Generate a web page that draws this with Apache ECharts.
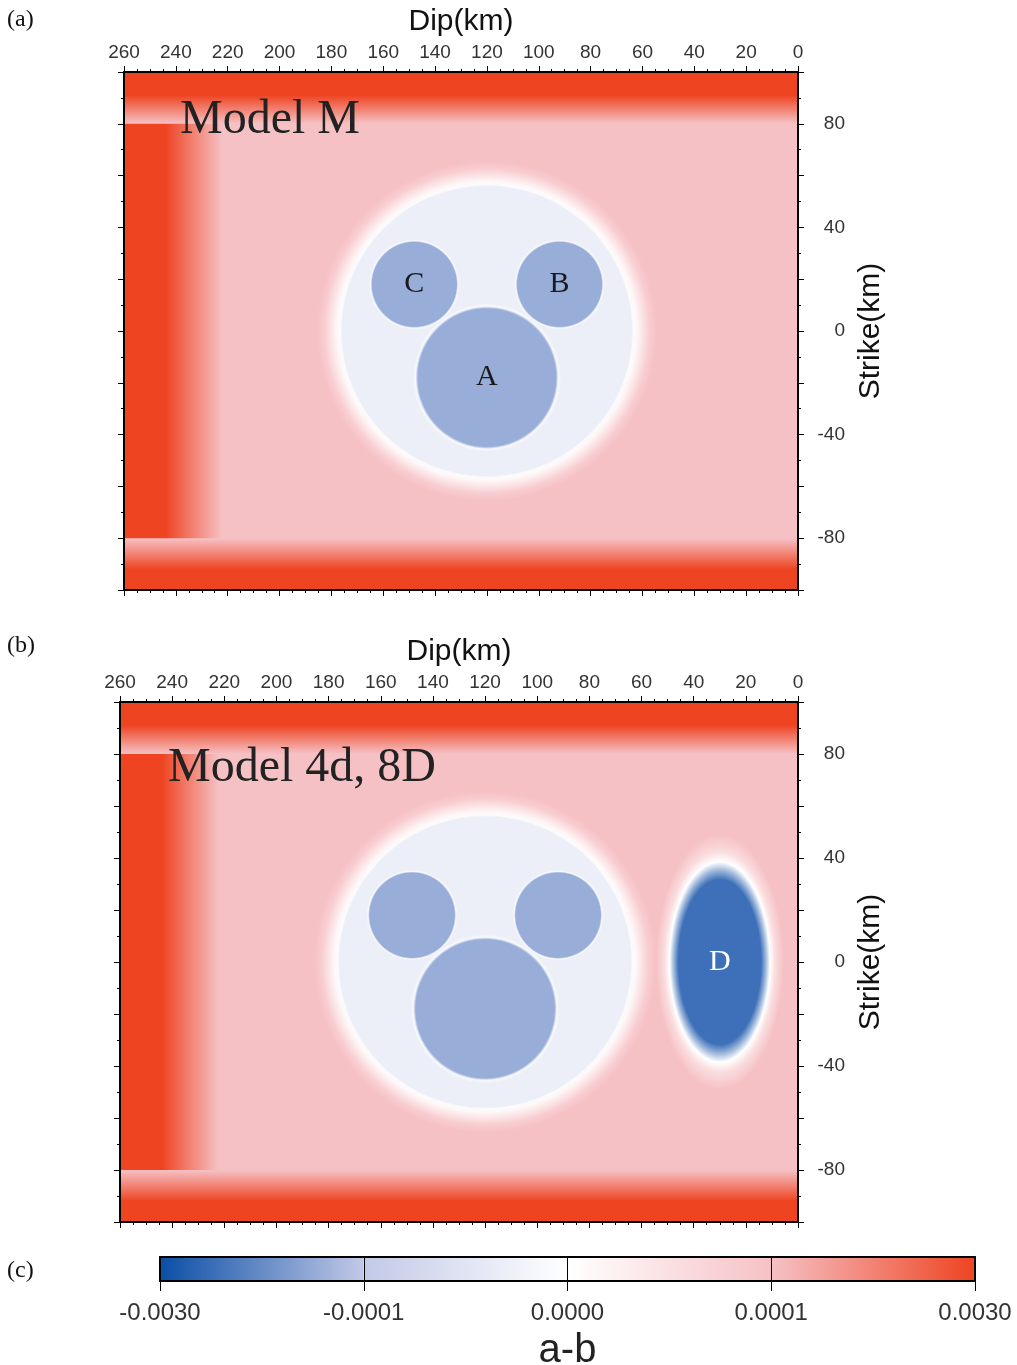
<!DOCTYPE html>
<html><head><meta charset="utf-8">
<script src="https://cdn.jsdelivr.net/npm/echarts@6/dist/echarts.min.js"></script>
<style>html,body{margin:0;padding:0;background:#fff}#c{width:1017px;height:1365px}</style>
</head><body><div id="c"></div>
<script>
// ---------- data ----------
const strikeLabelValues = [-80, -40, 0, 40, 80];
const cbTickValues = [-0.003, -0.0001, 0, 0.0001, 0.003];
const cbTickLabels = ['-0.0030', '-0.0001', '0.0000', '0.0001', '0.0030'];
const cbTickColors = ['#0b4ea6', '#c2c9e7', '#ffffff', '#f6c1c5', '#ee4422'];

const backgroundValue = 0.0001;
const bandNames = ['top', 'bottom', 'left'];
const bandDipRange = [[0, 260], [0, 260], [222, 260]];
const bandStrikeRange = [[80, 100], [-100, -80], [-80, 80]];
const bandRampAxis = ['strike', 'strike', 'dip'];
const bandRamp = [[80, 91], [-80, -92], [222, 244]];
const bandValue = [0.003, 0.003, 0.003];

const regionNames = ['outer', 'A', 'B', 'C', 'D'];
const regionDip = [120, 120, 92, 148, 30];
const regionStrike = [0, -18, 18, 18, 0];
const regionRadiusDip = [56, 27, 16.5, 16.5, 18];
const regionRadiusStrike = [56, 27, 16.5, 16.5, 36];
const regionValue = [-0.00003, -0.00077, -0.00077, -0.00077, -0.0022];

const panelARegions = ['outer', 'A', 'B', 'C'];
const panelALabels = ['A', 'B', 'C'];
const panelBRegions = ['outer', 'A', 'B', 'C', 'D'];
const panelBLabels = ['D'];
const panelTitles = ['Model M', 'Model 4d, 8D'];
const panelTags = ['(a)', '(b)', '(c)'];

// ---------- colour scale (colorbar) ----------
function hex2rgb(h) { h = h.replace('#', ''); return [0, 2, 4].map(i => parseInt(h.substr(i, 2), 16)); }
function rgb2hex(c) { return '#' + c.map(v => Math.round(Math.max(0, Math.min(255, v))).toString(16).padStart(2, '0')).join(''); }
function mix(a, b, t) { const A = hex2rgb(a), B = hex2rgb(b); return rgb2hex(A.map((v, i) => v + (B[i] - v) * t)); }
function colorOf(v) {
  const n = cbTickValues.length;
  if (v <= cbTickValues[0]) return cbTickColors[0];
  if (v >= cbTickValues[n - 1]) return cbTickColors[n - 1];
  for (let i = 0; i < n - 1; i++) {
    if (v <= cbTickValues[i + 1]) {
      const t = (v - cbTickValues[i]) / (cbTickValues[i + 1] - cbTickValues[i]);
      return mix(cbTickColors[i], cbTickColors[i + 1], t);
    }
  }
}
function lum(h) { const c = hex2rgb(h); return 0.299 * c[0] + 0.587 * c[1] + 0.114 * c[2]; }

// ---------- render helpers ----------
function bgRender(params, api) {
  const p0 = api.coord([api.value(0), api.value(2)]);
  const p1 = api.coord([api.value(1), api.value(3)]);
  return { type: 'rect', shape: { x: Math.min(p0[0], p1[0]), y: Math.min(p0[1], p1[1]), width: Math.abs(p1[0] - p0[0]), height: Math.abs(p1[1] - p0[1]) },
    style: { fill: colorOf(backgroundValue) } };
}
function bandRender(params, api) {
  const i = params.dataIndex;
  const d0 = api.value(0), d1 = api.value(1), s0 = api.value(2), s1 = api.value(3);
  const p0 = api.coord([d0, s0]), p1 = api.coord([d1, s1]);
  const r0 = api.value(4), r1 = api.value(5);
  let g0, g1;
  if (bandRampAxis[i] === 'strike') { g0 = api.coord([d0, r0]); g1 = api.coord([d0, r1]); }
  else { g0 = api.coord([r0, s0]); g1 = api.coord([r1, s0]); }
  const grad = new echarts.graphic.LinearGradient(g0[0], g0[1], g1[0], g1[1], [
    { offset: 0, color: colorOf(backgroundValue) },
    { offset: 0.5, color: mix(colorOf(backgroundValue), colorOf(api.value(6)), 0.5) },
    { offset: 1, color: colorOf(api.value(6)) }], true);
  return { type: 'rect', shape: { x: Math.min(p0[0], p1[0]), y: Math.min(p0[1], p1[1]), width: Math.abs(p1[0] - p0[0]), height: Math.abs(p1[1] - p0[1]) },
    style: { fill: grad } };
}
function makeRegionRender(list, labels) {
  return function (params, api) {
    const idx = list[params.dataIndex];
    const name = regionNames[idx];
    const c = api.coord([api.value(0), api.value(1)]);
    const sz = api.size([api.value(2), api.value(3)]);
    const rx = Math.abs(sz[0]), ry = Math.abs(sz[1]);
    const inner = colorOf(api.value(4));
    const bg = colorOf(backgroundValue), white = colorOf(0), around = colorOf(regionValue[0]);
    let f, stops;
    if (name === 'outer') {
      f = 1.17;
      stops = [[0, inner], [0.997 / f, inner], [1.008 / f, '#fbfbfc'], [1.03 / f, mix(white, bg, 0.12)], [1.08 / f, mix(white, bg, 0.5)], [1.12 / f, mix(white, bg, 0.8)], [1, bg]];
    } else if (name === 'D') {
      f = 1.36;
      stops = [[0, inner], [0.88 / f, inner], [0.99 / f, mix(inner, white, 0.55)], [1.07 / f, white], [1.18 / f, mix(white, bg, 0.55)], [1, bg]];
    } else {
      f = 1.06;
      stops = [[0, inner], [0.985 / f, inner], [1.02 / f, mix(around, white, 0.6)], [1, around]];
    }
    const children = [{
      type: 'circle', x: c[0], y: c[1], scaleY: ry / rx,
      shape: { cx: 0, cy: 0, r: rx * f },
      style: { fill: new echarts.graphic.RadialGradient(0.5, 0.5, 0.5, stops.map(s => ({ offset: s[0], color: s[1] }))) }
    }];
    if (labels.indexOf(name) >= 0) {
      children.push({ type: 'text', x: c[0], y: c[1],
        style: { text: name, fill: lum(inner) < 128 ? '#ffffff' : '#1a1a1a', font: '30px "Liberation Serif", "DejaVu Serif", serif', align: 'center', verticalAlign: 'middle' } });
    }
    return { type: 'group', children: children };
  };
}
function cbRender(params, api) {
  const i = params.dataIndex;
  const p0 = api.coord([api.value(0), 0]), p1 = api.coord([api.value(1), 1]);
  const grad = new echarts.graphic.LinearGradient(p0[0], 0, p1[0], 0, [
    { offset: 0, color: cbTickColors[i] }, { offset: 1, color: cbTickColors[i + 1] }], true);
  return { type: 'rect', shape: { x: p0[0], y: p1[1], width: p1[0] - p0[0], height: p0[1] - p1[1] }, style: { fill: grad } };
}

// ---------- axes ----------
const SANS = '"Liberation Sans", Arial, sans-serif';
function dipAxis(gridIndex, pos, showLabels, name) {
  return {
    type: 'value', gridIndex: gridIndex, position: pos, min: 0, max: 260, interval: 20, inverse: true, z: 10,
    axisLine: { show: true, onZero: false, lineStyle: { color: '#000', width: 2 } },
    axisTick: { show: true, inside: false, length: 6, lineStyle: { color: '#000', width: 1 } },
    minorTick: { show: true, splitNumber: 4, length: 3, lineStyle: { color: '#000', width: 1 } },
    splitLine: { show: false }, minorSplitLine: { show: false },
    axisLabel: { show: showLabels, margin: 10, fontSize: 19, color: '#333', fontFamily: SANS },
    name: name, nameLocation: 'middle', nameGap: 35,
    nameTextStyle: { fontSize: 30, color: '#111', fontFamily: SANS }
  };
}
function strikeAxis(gridIndex, pos, showLabels, name) {
  return {
    type: 'value', gridIndex: gridIndex, position: pos, min: -100, max: 100, interval: 20, z: 10,
    axisLine: { show: true, onZero: false, lineStyle: { color: '#000', width: 2 } },
    axisTick: { show: true, inside: false, length: 6, lineStyle: { color: '#000', width: 1 } },
    minorTick: { show: true, splitNumber: 2, length: 3, lineStyle: { color: '#000', width: 1 } },
    splitLine: { show: false }, minorSplitLine: { show: false },
    axisLabel: { show: showLabels, margin: 47, align: 'right', fontSize: 19, color: '#333', fontFamily: SANS,
      formatter: v => (strikeLabelValues.indexOf(v) >= 0 ? String(v) : '') },
    name: name, nameLocation: 'middle', nameGap: 55,
    nameTextStyle: { fontSize: 30, color: '#111', fontFamily: SANS }
  };
}
function cbXAxis(pos, main) {
  return {
    type: 'value', gridIndex: 2, position: pos, min: 0, max: cbTickLabels.length - 1, interval: 1, z: 10,
    axisLine: { show: true, onZero: false, lineStyle: { color: '#000', width: 2 } },
    axisTick: { show: main, inside: false, length: 10, lineStyle: { color: '#000', width: 1 } },
    splitLine: { show: main, lineStyle: { color: '#000', width: 1 } },
    axisLabel: { show: main, margin: 20, fontSize: 24, color: '#333', fontFamily: SANS, formatter: v => cbTickLabels[Math.round(v)] },
    name: main ? 'a-b' : '', nameLocation: 'middle', nameGap: 50,
    nameTextStyle: { fontSize: 40, color: '#222', fontFamily: SANS }
  };
}
function cbYAxis(pos) {
  return { type: 'value', gridIndex: 2, position: pos, min: 0, max: 1, z: 10,
    axisLine: { show: true, onZero: false, lineStyle: { color: '#000', width: 2 } },
    axisTick: { show: false }, axisLabel: { show: false }, splitLine: { show: false } };
}

function regionData(list) {
  return list.map(n => { const i = regionNames.indexOf(n); return [regionDip[i], regionStrike[i], regionRadiusDip[i], regionRadiusStrike[i], regionValue[i]]; });
}
const bandData = bandNames.map((n, i) => [bandDipRange[i][0], bandDipRange[i][1], bandStrikeRange[i][0], bandStrikeRange[i][1], bandRamp[i][0], bandRamp[i][1], bandValue[i]]);

function panelSeries(xi, yi, list, labels) {
  const common = { type: 'custom', xAxisIndex: xi, yAxisIndex: yi, silent: true, animation: false };
  return [
    Object.assign({}, common, { name: 'bg', renderItem: bgRender, data: [[0, 260, -100, 100]] }),
    Object.assign({}, common, { name: 'bands', renderItem: bandRender, data: bandData }),
    Object.assign({}, common, { name: 'regions', renderItem: makeRegionRender(list.map(n => regionNames.indexOf(n)), labels), data: regionData(list) })
  ];
}

const tagStyle = { fontFamily: '"Liberation Serif", serif', fontSize: 24, fontWeight: 'normal', color: '#111' };
const modelStyle = { fontFamily: '"Liberation Serif", serif', fontSize: 48, fontWeight: 'normal', color: '#222' };

const option = {
  backgroundColor: '#ffffff',
  animation: false,
  title: [
    { text: panelTags[0], left: 7, top: 8, padding: 0, textStyle: tagStyle },
    { text: panelTags[1], left: 7, top: 634, padding: 0, textStyle: tagStyle },
    { text: panelTags[2], left: 7, top: 1259, padding: 0, textStyle: tagStyle },
    { text: panelTitles[0], left: 180, top: 96, padding: 0, textStyle: modelStyle },
    { text: panelTitles[1], left: 168, top: 744, padding: 0, textStyle: modelStyle }
  ],
  grid: [
    { left: 124, top: 72, width: 674, height: 518, outerBoundsMode: 'none' },
    { left: 120, top: 702, width: 678, height: 520, outerBoundsMode: 'none' },
    { left: 160, top: 1257, width: 815, height: 24, outerBoundsMode: 'none' }
  ],
  xAxis: [dipAxis(0, 'top', true, 'Dip(km)'), dipAxis(0, 'bottom', false, ''),
          dipAxis(1, 'top', true, 'Dip(km)'), dipAxis(1, 'bottom', false, ''),
          cbXAxis('bottom', true), cbXAxis('top', false)],
  yAxis: [strikeAxis(0, 'right', true, 'Strike(km)'), strikeAxis(0, 'left', false, ''),
          strikeAxis(1, 'right', true, 'Strike(km)'), strikeAxis(1, 'left', false, ''),
          cbYAxis('left'), cbYAxis('right')],
  series: [].concat(
    panelSeries(0, 0, panelARegions, panelALabels),
    panelSeries(2, 2, panelBRegions, panelBLabels),
    [{ type: 'custom', name: 'colorbar', xAxisIndex: 4, yAxisIndex: 4, silent: true, animation: false, renderItem: cbRender,
       data: cbTickValues.slice(0, -1).map((v, i) => [i, i + 1]) }]
  )
};
const chart = echarts.init(document.getElementById('c'), null, { renderer: 'canvas', width: 1017, height: 1365 });
chart.setOption(option);
</script></body></html>
